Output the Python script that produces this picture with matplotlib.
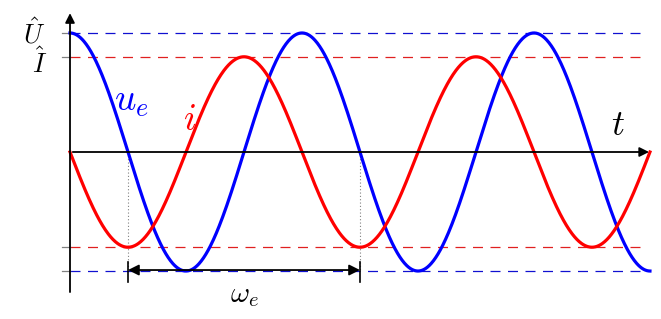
import numpy as np
import matplotlib
matplotlib.use('Agg')
import matplotlib.pyplot as plt

plt.rcParams['mathtext.fontset'] = 'cm'

# amplitudes of voltage and current (current lags the voltage by 90 deg)
U_hat = 1.0
I_hat = 0.8
periods = 2.5
labels = ['$u_e$', '$i$', '$t$', r'$\omega_e$', r'$\hat{U}$', r'$\hat{I}$']

t_end = periods * 2 * np.pi
t = np.linspace(0, t_end, 1000)
u = U_hat * np.cos(t)
i = -I_hat * np.sin(t)

fig = plt.figure(figsize=(6.61, 3.19), dpi=100)
ax = fig.add_axes([0, 0, 1, 1])
ax.set_xlim(-1.896, 16.007)
ax.set_ylim(-1.403, 1.277)
ax.axis('off')

# dashed amplitude levels
for lvl, c in [(U_hat, '#1010d0'), (-U_hat, '#1010d0'), (I_hat, '#e02020'), (-I_hat, '#e02020')]:
    ax.plot([0, 15.57], [lvl, lvl], color=c, lw=0.9, dashes=(8, 6), zorder=1)
    ax.plot([-0.22, 0], [lvl, lvl], color='gray', lw=0.9, zorder=1)

# curves
ax.plot(t, u, color='blue', lw=2.3, zorder=3)
ax.plot(t, i, color='red', lw=2.3, zorder=3)

# axes with arrows
ax.annotate('', xy=(t_end + 0.05, 0), xytext=(0, 0),
            arrowprops=dict(arrowstyle='-|>', color='black', lw=1.3, mutation_scale=14), zorder=4)
ax.annotate('', xy=(0, 1.19), xytext=(0, -1.2),
            arrowprops=dict(arrowstyle='-|>', color='black', lw=1.3, mutation_scale=14), zorder=4)

# period marker
x1, x2 = np.pi / 2, 5 * np.pi / 2
ybar = -(270 - 152) / 119
for xx in (x1, x2):
    ax.plot([xx, xx], [0, ybar], color='gray', lw=0.8, ls=(0, (1, 2)), zorder=2)
    ax.plot([xx, xx], [ybar + 0.07, ybar - 0.1], color='black', lw=1.2, zorder=4)
ax.annotate('', xy=(x2, ybar), xytext=(x1, ybar),
            arrowprops=dict(arrowstyle='<|-|>', color='black', lw=1.3, mutation_scale=16,
                            shrinkA=0, shrinkB=0), zorder=4)

# labels
ax.text(1.65, 0.43, labels[0], color='blue', fontsize=27, ha='center', va='center')
ax.text(3.25, 0.27, labels[1], color='red', fontsize=27, ha='center', va='center')
ax.text(14.84, 0.23, labels[2], color='black', fontsize=26, ha='center', va='center')
ax.text((x1 + x2) / 2, -1.2, labels[3], color='black', fontsize=21, ha='center', va='center')
ax.text(-0.98, 0.99, labels[4], color='black', fontsize=19, ha='center', va='center')
ax.text(-0.82, 0.74, labels[5], color='black', fontsize=19, ha='center', va='center')

fig.savefig('out.png', dpi=100)
